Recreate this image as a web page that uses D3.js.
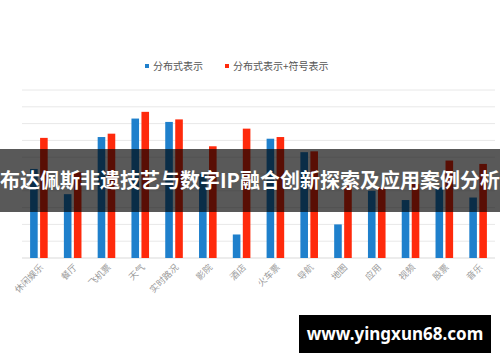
<!DOCTYPE html>
<html>
<head>
<meta charset="utf-8">
<script src="https://cdn.jsdelivr.net/npm/d3@7"></script>
<style>
  body { margin: 0; background: #fff; }
  svg { display: block; font-family: "Noto Sans CJK SC", "Noto Sans", sans-serif; }
</style>
</head>
<body>
<svg width="500" height="362"></svg>
<script>
const categories = ['休闲娱乐', '餐厅', '飞机票', '天气', '实时路况', '影院', '酒店',
  '火车票', '导航', '地图', '应用', '视频', '股票', '音乐'];
const seriesNames = ['分布式表示', '分布式表示+符号表示'];
const distributed = [5.3, 3.8, 7.2, 8.3, 8.1, 5.0, 1.4, 7.1, 6.3, 2.0, 4.0, 3.45, 4.2, 3.6];
const combined = [7.15, 5.1, 7.4, 8.7, 8.25, 6.65, 7.7, 7.2, 6.35, 4.3, 4.2, 4.4, 5.8, 5.6];
const yTicks = d3.range(0, 11);
const colors = ['#1f80cc', '#ff2a0c'];

const title = '布达佩斯非遗技艺与数字IP融合创新探索及应用案例分析';
const watermark = 'www.yingxun68.com';

const svg = d3.select('svg');

const x0 = d3.scaleBand()
  .domain(categories)
  .range([22, 495]);

const x1 = d3.scaleBand()
  .domain(seriesNames)
  .range([0, x0.bandwidth()])
  .paddingInner(0.24)
  .paddingOuter(0.81);

const y = d3.scaleLinear()
  .domain([0, 10])
  .range([258, 90]);

// gridlines
svg.append('g')
  .selectAll('line')
  .data(yTicks)
  .join('line')
    .attr('x1', 22)
    .attr('x2', 495)
    .attr('y1', d => y(d))
    .attr('y2', d => y(d))
    .attr('stroke', d => d === 0 ? '#d9d9d9' : '#e8e8e8')
    .attr('stroke-width', 1);

const rows = categories.map((c, i) => ({cat: c, values: [distributed[i], combined[i]]}));

const groups = svg.append('g')
  .selectAll('g')
  .data(rows)
  .join('g')
    .attr('transform', d => `translate(${x0(d.cat)},0)`);

groups.selectAll('rect')
  .data(d => d.values.map((v, j) => ({name: seriesNames[j], value: v, j})))
  .join('rect')
    .attr('x', d => x1(d.name))
    .attr('width', x1.bandwidth())
    .attr('y', d => y(d.value))
    .attr('height', d => y(0) - y(d.value))
    .attr('fill', d => colors[d.j]);

// category labels
svg.append('g')
  .selectAll('text')
  .data(categories)
  .join('text')
    .attr('transform', d => `translate(${x0(d) + x0.bandwidth() / 2 + 5},268) rotate(-45)`)
    .attr('text-anchor', 'end')
    .attr('font-size', 9)
    .attr('fill', '#9a9a9a')
    .text(d => d);

// legend
const legendX = [145, 225];
const legend = svg.append('g')
  .selectAll('g')
  .data(seriesNames)
  .join('g')
    .attr('transform', (d, i) => `translate(${legendX[i]},64)`);

legend.append('rect')
  .attr('width', 4)
  .attr('height', 4)
  .attr('fill', (d, i) => colors[i]);

legend.append('text')
  .attr('x', 8)
  .attr('y', 5.5)
  .attr('font-size', 10)
  .attr('fill', '#555')
  .text(d => d);

// overlay banner
svg.append('rect')
  .attr('x', 0)
  .attr('y', 149)
  .attr('width', 500)
  .attr('height', 63)
  .attr('fill', '#000')
  .attr('fill-opacity', 0.65);

svg.append('text')
  .attr('x', 250)
  .attr('y', 188)
  .attr('text-anchor', 'middle')
  .attr('font-size', 20)
  .attr('font-weight', 'bold')
  .attr('fill', '#fff')
  .text(title);

// watermark
svg.append('rect')
  .attr('x', 299)
  .attr('y', 315)
  .attr('width', 192)
  .attr('height', 38)
  .attr('fill', '#000');

svg.append('text')
  .attr('x', 395)
  .attr('y', 340)
  .attr('text-anchor', 'middle')
  .attr('font-family', '"Noto Sans", sans-serif')
  .attr('font-size', 17)
  .attr('font-weight', 'bold')
  .attr('fill', '#fff')
  .text(watermark);
</script>
</body>
</html>
